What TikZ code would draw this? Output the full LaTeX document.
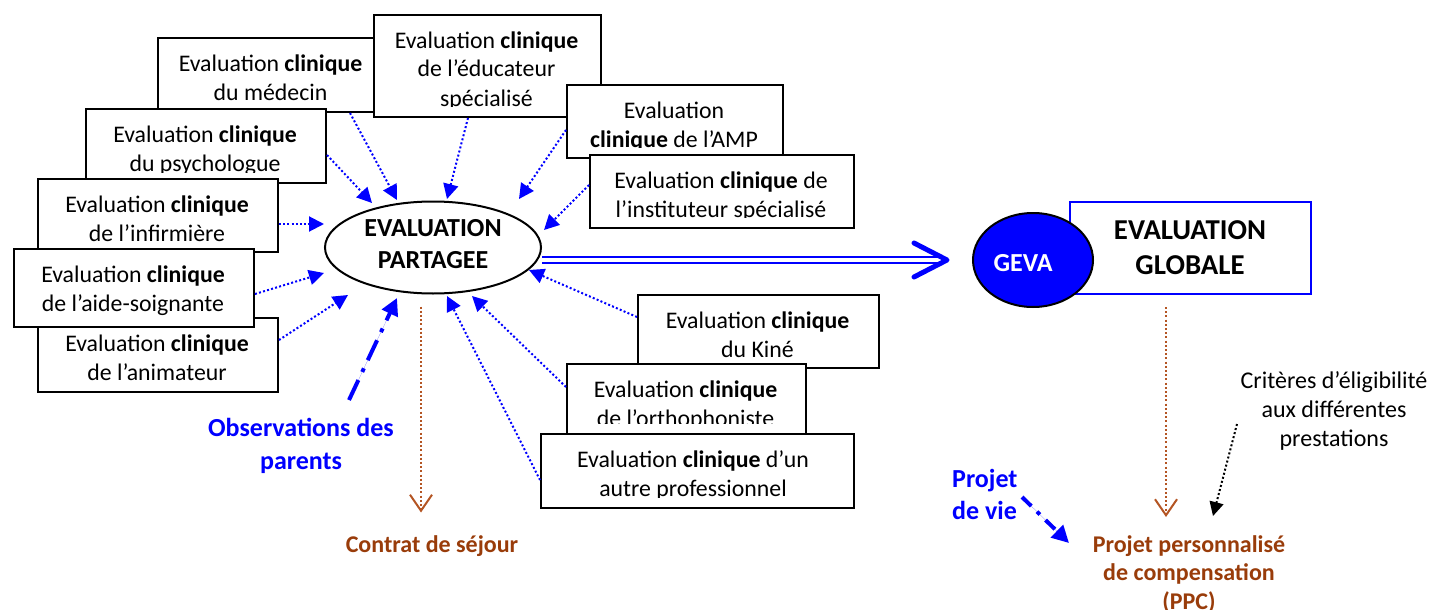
\documentclass[tikz,border=0pt]{standalone}
\usepackage{fontspec}
\setmainfont{Carlito}
\usetikzlibrary{arrows.meta,calc,shapes.geometric}
\definecolor{brn}{RGB}{153,60,10}
\definecolor{brnl}{RGB}{180,85,35}
\tikzset{
  evb/.style={draw=black, line width=2pt, fill=white, inner sep=0pt},
  evt/.style={align=center, inner sep=0pt, font=\fontsize{23.8}{29}\selectfont},
  dotarr/.style={draw=blue, line width=2pt, dash pattern=on 2pt off 2.2pt, -{Triangle[length=15pt,width=15pt]}},
  dasharr/.style={draw=blue, fill=blue, line width=4pt, dash pattern=on 22pt off 9pt on 4pt off 9pt, -{Triangle[length=17pt,width=17pt]}},
  brnarr/.style={draw=brnl, line width=2pt, dash pattern=on 2pt off 2.2pt, -{Straight Barb[length=16pt,width=22pt,line width=2pt]}},
  blkarr/.style={draw=black, line width=2pt, dash pattern=on 2pt off 2.2pt, -{Triangle[length=14pt,width=14pt]}},
  lbl/.style={inner sep=0pt, align=center}
}
% #8 = offset of the last baseline below the first one
\newcommand\evbox[8]{%
  \node[evb, minimum width={(#4)-(#2)}, minimum height={(#5)-(#3)}, anchor=north west] (#1) at (#2,#3) {};
  \begin{scope}
    \clip (#2,#3) rectangle (#4,{#5-9.5});
    \node[evt, anchor=base] (#1-t) at ({#6},{#3+34+#8}) {#7};
  \end{scope}}
\begin{document}
\begin{tikzpicture}[x=1pt,y=-1pt]
\useasboundingbox (0,0) rectangle (1432,610);
% left stack
\evbox{med}{157}{37}{384}{111}{270.5}{Evaluation \textbf{clinique}\\du médecin}{29}
\evbox{psy}{85}{108}{325}{182}{205}{Evaluation \textbf{clinique}\\du psychologue}{29}
\evbox{inf}{37}{178}{277}{251}{157}{Evaluation \textbf{clinique}\\de l’infirmière}{29}
\evbox{ani}{37}{317}{277}{391}{157}{Evaluation \textbf{clinique}\\de l’animateur}{29}
\evbox{aid}{13}{248}{253}{326}{133}{Evaluation \textbf{clinique}\\de l’aide-soignante}{29}
% top
\evbox{edu}{373}{14}{600}{116}{486.5}{Evaluation \textbf{clinique}\\de l’éducateur\\spécialisé}{58}
\evbox{amp}{566}{84}{782}{157}{674}{Evaluation\\\textbf{clinique} de l’AMP}{29}
\evbox{ins}{589}{154}{853}{227}{721}{Evaluation \textbf{clinique} de\\l’instituteur spécialisé}{29}
% bottom right
\evbox{kin}{637}{294}{878}{367}{757.5}{Evaluation \textbf{clinique}\\du Kiné}{29}
\evbox{ort}{566}{363}{805}{433}{685.5}{Evaluation \textbf{clinique}\\de l’orthophoniste}{29}
\evbox{aut}{540}{433}{853}{507}{693}{Evaluation \textbf{clinique} d’un\\autre professionnel}{29}

% central ellipse
\node[ellipse, draw=black, line width=2pt, fill=white, minimum width=216pt, minimum height=92pt, inner sep=0pt] (ep) at (433,247.5) {};
\node[lbl, font=\bfseries\fontsize{26}{32}\selectfont, anchor=base] (ept) at (433,268) {EVALUATION\\PARTAGEE};

% global evaluation
\node[draw=blue, line width=2pt, fill=white, minimum width=241pt, minimum height=92pt, anchor=north west, inner sep=0pt] (gb) at (1069,201) {};
\node[lbl, font=\bfseries\fontsize{28.8}{35}\selectfont, anchor=base] (gbt) at (1190,274) {EVALUATION\\GLOBALE};
\node[ellipse, draw=black, fill=blue, line width=2pt, minimum width=120pt, minimum height=94pt, inner sep=0pt] (gv) at (1033,260) {};
\node[lbl, font=\bfseries\fontsize{26}{30}\selectfont, text=white, anchor=base] (gvt) at (1023,271) {GEVA};

% double arrow
\coordinate (dtip) at ($(gv.west)+(-25,0)$);
\draw[draw=blue, double=white, line width=2.2pt, double distance=3.6pt] (ep.east |- gv.west) -- ($(dtip)+(-10,0)$);
\draw[blue, line width=5pt, line cap=round, line join=round] ($(dtip)+(-33,-17)$) -- (dtip) -- ($(dtip)+(-33,17)$);

% labels
\node[lbl, font=\bfseries\fontsize{26}{33}\selectfont, text=blue, anchor=base] (obs) at (301,469) {Observations des\\parents};
\node[lbl, font=\bfseries\fontsize{24}{29}\selectfont, text=brn, anchor=base] (cs) at (432,552) {Contrat de séjour};
\node[lbl, font=\fontsize{24}{29}\selectfont, anchor=base] (crit) at (1334,446) {Critères d’éligibilité\\aux différentes\\prestations};
\node[lbl, align=left, font=\bfseries\fontsize{26}{32}\selectfont, text=blue, anchor=base west] (pv) at (952,519) {Projet\\de vie};
\node[lbl, font=\bfseries\fontsize{24}{28.5}\selectfont, text=brn, anchor=base] (ppc) at (1189,609) {Projet personnalisé\\de compensation\\(PPC)};

% converging dotted arrows
\draw[dotarr] ($(med.south west)+(193,0)$) -- ($(ep.center)+(-36,-47.5)$);
\draw[dotarr] ($(psy.north east)+(0,47)$) -- ($(ep.center)+(-61,-44.5)$);
\draw[dotarr] ($(edu.south west)+(95,0)$) -- ($(ep.center)+(14,-48.5)$);
\draw[dotarr] ($(amp.north west)+(0,46)$) -- ($(ep.center)+(86,-48.5)$);
\draw[dotarr] ($(ins.north west)+(0,31)$) -- ($(ep.center)+(111,-17.5)$);
\draw[dotarr] ($(inf.north east)+(0,46)$) -- ($(ep.center)+(-109,-23.5)$);
\draw[dotarr] ($(aid.north east)+(0,46)$) -- ($(ep.center)+(-109,25.5)$);
\draw[dotarr] ($(ani.north east)+(0,23)$) -- ($(ep.center)+(-85,47.5)$);
\draw[dotarr] ($(kin.north west)+(0,23)$) -- ($(ep.center)+(96,22.5)$);
\draw[dotarr] ($(ort.north west)+(0,24)$) -- ($(ep.center)+(39,48.5)$);
\draw[dotarr] ($(aut.north west)+(0,47)$) -- ($(ep.center)+(14,48.5)$);

% observations
\coordinate (obsS) at (349,400);
\draw[dasharr] (obsS) -- ($(ep.center)+(-36,50.5)$);

% brown arrows
\draw[brnarr] ($(ep.south)+(-12,12)$) -- ++(0,206);
\draw[brnarr] ($(gb.south)+(-24.5,12)$) -- ++(0,210);

% criteria arrow
\coordinate (critS) at (1237,424);
\draw[blkarr] (critS) -- (1213,516);

% projet de vie
\coordinate (pvS) at (1022,497);
\draw[dasharr, dash pattern=on 13pt off 8pt on 4pt off 8pt] (pvS) -- (1069,543);
\end{tikzpicture}
\end{document}
